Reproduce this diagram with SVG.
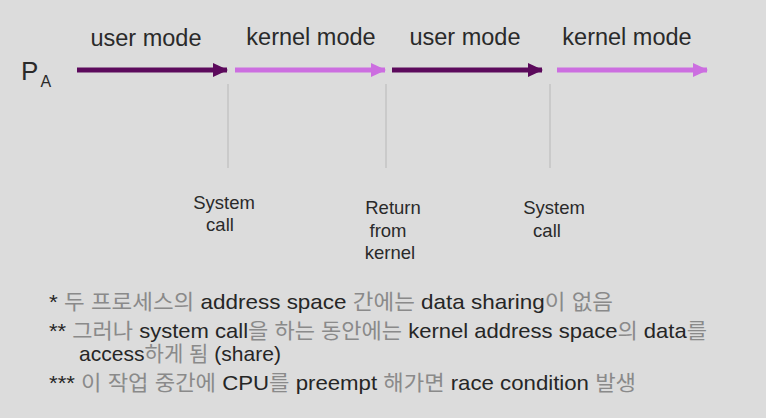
<svg xmlns="http://www.w3.org/2000/svg" width="766" height="418" viewBox="0 0 766 418">
<style>
.lbl{font-family:"Liberation Sans",Arial,sans-serif;fill:#2a2a2a}
.mode{font-size:23.5px;text-anchor:middle}
.ev{font-size:18.5px;text-anchor:middle}
.note{font-family:"Liberation Sans","Noto Sans CJK KR",sans-serif;font-size:21px;fill:#262626}
.ko{fill:#8a8a8a}
.dark{stroke:#5c0a5c;stroke-width:5;fill:none}
.light{stroke:#cc6ee0;stroke-width:5;fill:none}
.tick{stroke:#c4c4c4;stroke-width:1.5}
</style>
<defs>
<marker id="hd" viewBox="0 0 15 14" refX="14" refY="7" markerWidth="15" markerHeight="14" markerUnits="userSpaceOnUse" orient="auto"><path d="M0,0 L15,7 L0,14 Z" fill="#5c0a5c"/></marker>
<marker id="hl" viewBox="0 0 15 14" refX="14" refY="7" markerWidth="15" markerHeight="14" markerUnits="userSpaceOnUse" orient="auto"><path d="M0,0 L15,7 L0,14 Z" fill="#cc6ee0"/></marker>
</defs>
<rect width="766" height="418" fill="#dcdcdc"/>
<g id="process-label">
<text class="lbl" x="21" y="80" font-size="26">P</text>
<text class="lbl" x="40.5" y="87" font-size="16">A</text>
</g>
<g id="mode-labels">
<text class="lbl mode" x="146" y="46">user mode</text>
<text class="lbl mode" x="311" y="45">kernel mode</text>
<text class="lbl mode" x="465" y="45">user mode</text>
<text class="lbl mode" x="627" y="45">kernel mode</text>
</g>
<g id="connectors">
<line class="dark" x1="77" y1="70" x2="227" y2="70" marker-end="url(#hd)"/>
<line class="light" x1="235" y1="70" x2="385" y2="70" marker-end="url(#hl)"/>
<line class="dark" x1="392" y1="70" x2="542" y2="70" marker-end="url(#hd)"/>
<line class="light" x1="557" y1="70" x2="707" y2="70" marker-end="url(#hl)"/>
<line class="tick" x1="228" y1="84" x2="228" y2="168"/>
<line class="tick" x1="386" y1="84" x2="386" y2="168"/>
<line class="tick" x1="550" y1="84" x2="550" y2="168"/>
</g>
<g id="event-syscall-1">
<text class="lbl ev" x="224" y="209">System</text>
<text class="lbl ev" x="220" y="231">call</text>
</g>
<g id="event-return">
<text class="lbl ev" x="393" y="214">Return</text>
<text class="lbl ev" x="388" y="237">from</text>
<text class="lbl ev" x="390" y="259">kernel</text>
</g>
<g id="event-syscall-2">
<text class="lbl ev" x="554" y="214">System</text>
<text class="lbl ev" x="547" y="237">call</text>
</g>
<g id="notes">
<text class="note" x="49" y="309" textLength="564" lengthAdjust="spacingAndGlyphs">* <tspan class="ko">두 프로세스의</tspan> address space <tspan class="ko">간에는</tspan> data sharing<tspan class="ko">이 없음</tspan></text>
<text class="note" x="49" y="338" textLength="658" lengthAdjust="spacingAndGlyphs">** <tspan class="ko">그러나</tspan> system call<tspan class="ko">을 하는 동안에는</tspan> kernel address space<tspan class="ko">의</tspan> data<tspan class="ko">를</tspan></text>
<text class="note" x="79" y="361" textLength="202" lengthAdjust="spacingAndGlyphs">access<tspan class="ko">하게 됨</tspan> (share)</text>
<text class="note" x="49" y="390" textLength="587" lengthAdjust="spacingAndGlyphs">*** <tspan class="ko">이 작업 중간에</tspan> CPU<tspan class="ko">를</tspan> preempt <tspan class="ko">해가면</tspan> race condition <tspan class="ko">발생</tspan></text>
</g>
</svg>
